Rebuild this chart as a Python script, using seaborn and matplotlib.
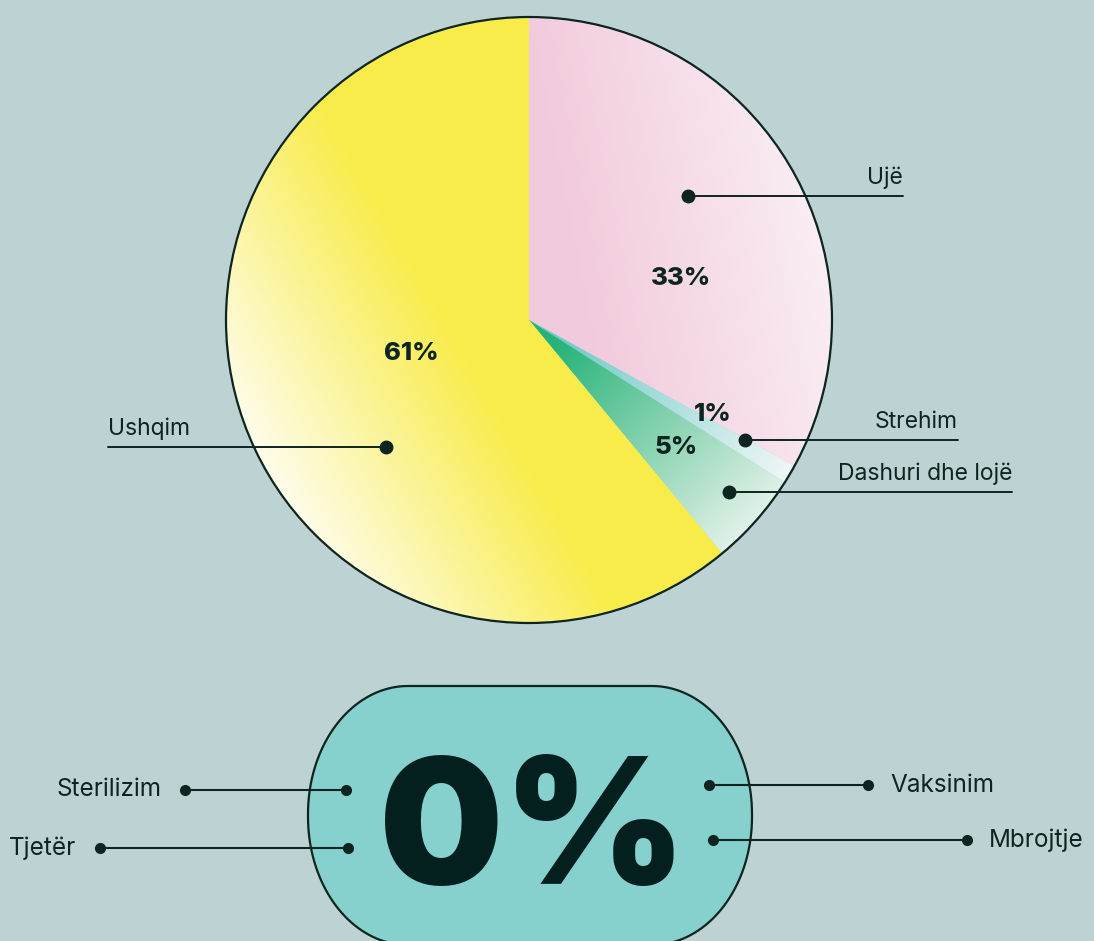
import numpy as np
import matplotlib
matplotlib.use("Agg")
import matplotlib.pyplot as plt
import seaborn as sns
from matplotlib.colors import to_rgb
from matplotlib.patches import Circle, PathPatch
from matplotlib.path import Path

# Data
categories = ["Ujë", "Strehim", "Dashuri dhe lojë", "Ushqim"]
shares = [33, 1, 5, 61]
zero_categories = ["Sterilizim", "Tjetër", "Vaksinim", "Mbrojtje"]
zero_share = 0

sns.set_theme(style="white")
plt.rcParams['font.family'] = ['Inter', 'DejaVu Sans']

BG = "#bdd2d2"
INK = "#0e2420"
W, H = 1094, 941

fig = plt.figure(figsize=(W / 100, H / 100), dpi=100)
fig.patch.set_facecolor(BG)
ax = fig.add_axes([0, 0, 1, 1])


def py(y):
    # pixel row -> data y
    return H - y


cx, cy, R = 529, py(320), 303
wedges, _ = ax.pie(shares, center=(cx, cy), radius=R, startangle=90,
                   counterclock=False, wedgeprops=dict(linewidth=0),
                   frame=True)
ax.set_xlim(0, W)
ax.set_ylim(0, H)
ax.set_aspect("equal")
ax.axis("off")


def grad_fill(patch, c0, c1, p0, p1):
    x0, x1 = cx - R - 5, cx + R + 5
    y0, y1 = cy - R - 5, cy + R + 5
    xs = np.linspace(x0, x1, 400)
    ys = np.linspace(y0, y1, 400)
    X, Y = np.meshgrid(xs, ys)
    d = np.array(p1, float) - np.array(p0, float)
    t = ((X - p0[0]) * d[0] + (Y - p0[1]) * d[1]) / (d @ d)
    t = np.clip(t, 0, 1)[..., None]
    img = (1 - t) * np.array(to_rgb(c0)) + t * np.array(to_rgb(c1))
    im = ax.imshow(img, extent=(x0, x1, y0, y1), origin="lower",
                   interpolation="bilinear", zorder=2)
    im.set_clip_path(patch)
    patch.set_visible(False)


# gradient fills per slice (Ujë, Strehim, Dashuri, Ushqim)
grad_fill(wedges[0], "#f2cadd", "#faeef4", (580, py(300)), (830, py(250)))
grad_fill(wedges[1], "#6fcac9", "#eef7f6", (560, py(340)), (790, py(470)))
grad_fill(wedges[2], "#27b378", "#f0f6f0", (555, py(345)), (760, py(545)))
grad_fill(wedges[3], "#ffffff", "#f8ec4a", (245, py(490)), (470, py(360)))
ax.add_patch(Circle((cx, cy), R, fill=False, ec=INK, lw=1.6, zorder=3))

# percentage labels
pct_pos = [(681, 278), (713, 414), (676, 447), (411, 353)]
for v, (x, y) in zip(shares, pct_pos):
    ax.text(x, py(y), f"{v}%", ha="center", va="center", fontsize=18.5,
            fontweight="heavy", color=INK, zorder=5)

# leader lines: (dot x, dot y, line end x, text side)
leaders = [(688, 196, 903, "r"), (745, 440, 958, "r"),
           (729, 492, 1012, "r"), (386, 447, 108, "l")]
for name, (dx, dy, ex, side) in zip(categories, leaders):
    ax.plot([dx, ex], [py(dy), py(dy)], color=INK, lw=1.4, zorder=4)
    ax.plot(dx, py(dy), "o", color=INK, ms=9, zorder=5)
    ax.text(ex, py(dy) + 12, name, ha="right" if side == "r" else "left",
            va="baseline", fontsize=16.5, color=INK, zorder=5)

# bottom pill with 0%
L, Rr, T, B = 308, 752, 686, 941 + 4
rx, ry = 100, 128
ang = np.linspace(0, np.pi / 2, 40)
verts = []
verts += [(Rr - rx + rx * np.cos(a), py(T + ry - ry * np.sin(a))) for a in ang]
verts += [(L + rx - rx * np.cos(a), py(T + ry - ry * np.sin(a))) for a in ang[::-1]]
verts += [(L + rx - rx * np.cos(a), py(B - ry + ry * np.sin(a))) for a in ang]
verts += [(Rr - rx + rx * np.cos(a), py(B - ry + ry * np.sin(a))) for a in ang[::-1]]
verts.append(verts[0])
pill = PathPatch(Path(verts), fc="#86d0ce", ec=INK, lw=1.6, zorder=2,
                 clip_on=False)
ax.add_patch(pill)
ax.text(533, py(838), f"{zero_share}%", ha="center", va="center",
        fontsize=126, fontweight=900, color="#03201e", zorder=5)

# bottom leaders: (inner dot x, y, outer dot x, text side)
zleaders = [(346, 790, 185, "l"), (348, 848, 100, "l"),
            (709, 785, 868, "r"), (713, 840, 967, "r")]
for name, (ix, iy, ox, side) in zip(zero_categories, zleaders):
    ax.plot([ix, ox], [py(iy), py(iy)], color=INK, lw=1.5, zorder=4)
    ax.plot([ix, ox], [py(iy), py(iy)], "o", color=INK, ms=7, zorder=5)
    if side == "l":
        ax.text(ox - 24, py(iy), name, ha="right", va="center",
                fontsize=17.5, color=INK)
    else:
        ax.text(ox + 22, py(iy), name, ha="left", va="center",
                fontsize=17.5, color=INK)

fig.savefig("out.png", dpi=100, facecolor=BG)
